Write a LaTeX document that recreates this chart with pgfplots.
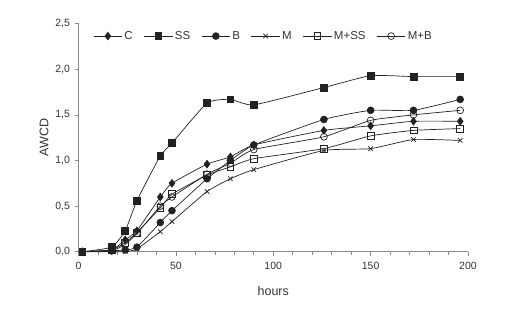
\documentclass[border=0pt]{standalone}
\usepackage{pgfplots}
\pgfplotsset{compat=1.18}
\usepackage{fontspec}
\setmainfont{Liberation Sans}
\definecolor{txt}{HTML}{333333}
\definecolor{ax}{HTML}{8A8A8A}
\definecolor{ln}{HTML}{222222}
\begin{document}
\begin{tikzpicture}
\begin{axis}[
  scale only axis,
  width=389.5pt, height=228pt,
  xmin=0, xmax=200, ymin=0, ymax=2.5,
  axis x line=bottom, axis y line=left,
  axis line style={-, draw=ax, line width=0.8pt},
  xtick={0,50,100,150,200},
  minor x tick num=4,
  ytick={0,0.5,1,1.5,2,2.5},
  tick align=outside,
  major tick length=4pt, minor tick length=3pt,
  tick style={draw=ax, line width=0.6pt},
  yticklabel style={xshift=-1pt, /pgf/number format/.cd, fixed, fixed zerofill, precision=1, use comma},
  /pgf/number format/assume math mode=true,
  ticklabel style={font=\fontsize{10.5}{12}\selectfont, text=txt},
  xticklabel style={yshift=-3pt},
  xlabel={hours}, ylabel={AWCD},
  label style={font=\fontsize{12.5}{14}\selectfont, text=txt},
  xlabel style={yshift=-10pt},
  ylabel style={yshift=0pt},
  legend columns=-1,
  legend style={at={(0.475,0.985)}, anchor=north, draw=none, fill=none,
    font=\fontsize{11.5}{12}\selectfont, text=txt,
    /tikz/every even column/.append style={column sep=9pt}},
  legend image code/.code={\draw[#1] (0cm,0cm) -- (1.0cm,0cm); \draw[#1, only marks] plot coordinates {(0.5cm,0cm)};},
  every axis plot/.append style={draw=ln, line width=0.7pt, smooth, tension=0.3, mark options={solid, draw=ln}},
  clip=false,
]
\addplot[mark=diamond*, mark size=3.8pt, mark options={fill=ln}] coordinates {
(2,0) (17,0.02) (24,0.13) (30,0.23) (42,0.60) (48,0.75) (66,0.96) (78,1.04) (90,1.17) (126,1.33) (150,1.38) (172,1.43) (196,1.43)};
\addlegendentry{C}
\addplot[mark=square*, mark size=3.4pt, mark options={fill=ln}] coordinates {
(2,0) (17,0.05) (24,0.23) (30,0.56) (42,1.05) (48,1.19) (66,1.63) (78,1.67) (90,1.61) (126,1.80) (150,1.93) (172,1.92) (196,1.92)};
\addlegendentry{SS}
\addplot[mark=*, mark size=3.4pt, mark options={fill=ln}] coordinates {
(2,0) (17,0.01) (24,0.02) (30,0.05) (42,0.32) (48,0.45) (66,0.80) (78,1.00) (90,1.17) (126,1.45) (150,1.55) (172,1.55) (196,1.67)};
\addlegendentry{B}
\addplot[mark=x, mark size=3.2pt] coordinates {
(2,0) (17,0.0) (24,0.0) (30,0.03) (42,0.22) (48,0.33) (66,0.66) (78,0.80) (90,0.90) (126,1.11) (150,1.13) (172,1.23) (196,1.22)};
\addlegendentry{M}
\addplot[mark=square, mark size=3.4pt, mark options={fill=white}] coordinates {
(2,0) (17,0.02) (24,0.10) (30,0.21) (42,0.48) (48,0.63) (66,0.84) (78,0.93) (90,1.02) (126,1.13) (150,1.27) (172,1.33) (196,1.35)};
\addlegendentry{M+SS}
\addplot[mark=o, mark size=3.4pt, mark options={fill=white}] coordinates {
(2,0) (17,0.01) (24,0.08) (30,0.20) (42,0.50) (48,0.60) (66,0.85) (78,0.97) (90,1.12) (126,1.26) (150,1.44) (172,1.50) (196,1.55)};
\addlegendentry{M+B}
\end{axis}
\path (current axis.south west) ++(-78.5pt,-63.3pt) coordinate (bl);
\path (current axis.north east) ++(51pt,23.7pt) coordinate (tr);
\path[use as bounding box] (bl) rectangle (tr);
\end{tikzpicture}
\end{document}
